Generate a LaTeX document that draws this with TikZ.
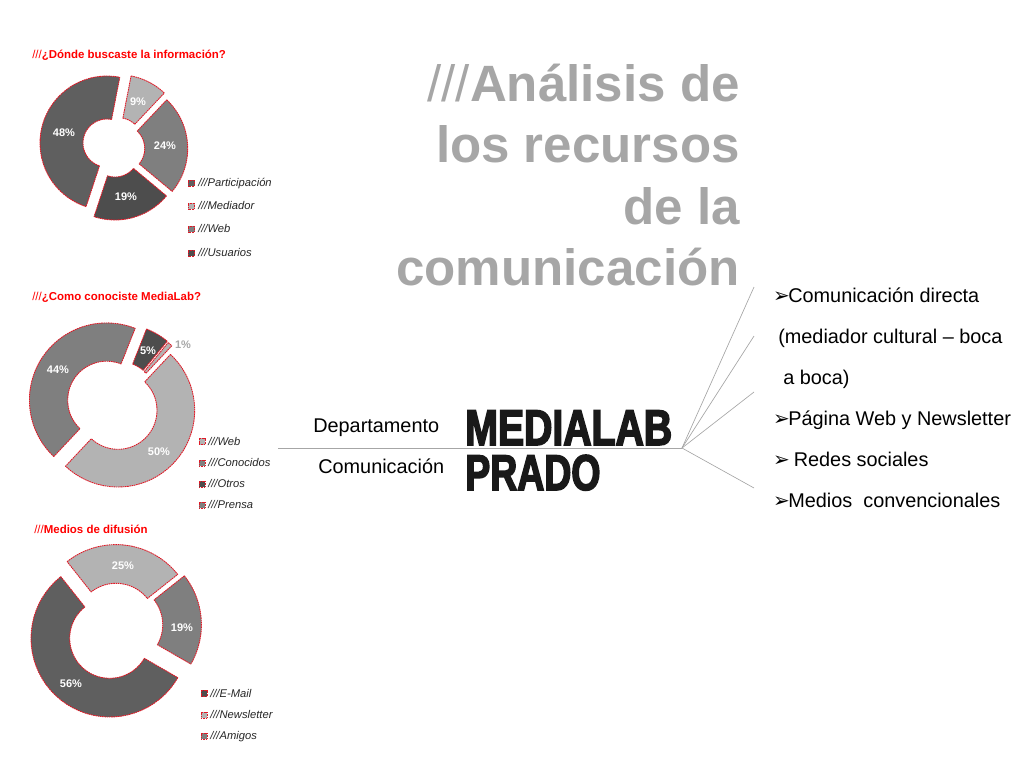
\documentclass[tikz,border=0pt]{standalone}
\usepackage{fontspec}
\setmainfont{Liberation Sans}
\newfontfamily\bulletfont{DejaVu Sans}
\newfontfamily\logofont[FakeStretch=0.78,FakeBold=3]{Liberation Sans Bold}
\usetikzlibrary{backgrounds}
\pgfdeclarelayer{edgelayer}
\pgfdeclarelayer{nodelayer}
\pgfsetlayers{main,edgelayer,nodelayer}
\definecolor{chartred}{rgb}{0.88,0.10,0.15}
\definecolor{heading}{HTML}{A6A6A6}
\definecolor{dark}{HTML}{4D4D4D}
\definecolor{middark}{HTML}{5F5F5F}
\definecolor{midgray}{HTML}{7F7F7F}
\definecolor{light}{HTML}{B3B3B3}
\tikzstyle{slice}=[draw=chartred, line width=0.65pt, dash pattern=on 1.2pt off 0.5pt, line join=round]
\tikzstyle{pct}=[text=white, font=\fontsize{8.25}{10}\selectfont\bfseries, inner sep=0pt]
\tikzstyle{charttitle}=[text=red, font=\fontsize{8.6}{10}\selectfont\bfseries, anchor=west, inner sep=0pt]
\tikzstyle{legendtext}=[font=\fontsize{8.4}{10}\selectfont\itshape, anchor=west, inner sep=0pt, text=black!85, text height=6pt, text depth=1.6pt]
\tikzstyle{legendbox}=[rectangle, draw=chartred, line width=0.5pt, dash pattern=on 0.8pt off 0.4pt, minimum size=4.6pt, inner sep=0pt]
\tikzstyle{bodytext}=[font=\fontsize{14.9}{18}\selectfont, anchor=west, inner sep=0pt, text height=11pt, text depth=3pt]
\tikzstyle{rule}=[draw=heading, line width=0.5pt]
\newcommand{\ringslice}[7]{
    \draw [style=slice, fill=#7] plot [domain=#3:#4, samples=40] ({#1+#6*sin(\x)}, {#2-#6*cos(\x)})
        -- plot [domain=#4:#3, samples=40] ({#1+#5*sin(\x)}, {#2-#5*cos(\x)}) -- cycle;
}
\newcommand{\arrowbullet}{\makebox[9.75pt][l]{\hspace*{-1.6pt}\bulletfont\fontsize{15}{15}\selectfont\symbol{"27A2}}}
\begin{document}
\begin{tikzpicture}[x=0.75pt, y=-0.75pt]
    \useasboundingbox (0, 0) rectangle (1024, 768);
    \begin{pgfonlayer}{edgelayer}
        \ringslice{118.3}{141.7}{11}{43.4}{24}{67}{light}
        \ringslice{120.7}{148.5}{43.4}{129.8}{24}{67}{midgray}
        \ringslice{115}{153}{129.8}{198.2}{24}{67}{dark}
        \ringslice{107}{143}{198.2}{371}{24}{67}{middark}

        \ringslice{118}{410.3}{43.2}{223.2}{39}{76.7}{light}
        \ringslice{106.7}{400.2}{223.2}{381.6}{39}{77.3}{midgray}
        \ringslice{118.3}{400.3}{21.6}{39.6}{39}{76.7}{dark}
        \ringslice{119.3}{401.7}{39.6}{43.2}{39}{76.7}{light}

        \ringslice{116}{623.3}{-38.4}{51.6}{40}{78.7}{light}
        \ringslice{122.7}{624.7}{51.6}{120}{40}{78.7}{midgray}
        \ringslice{109.7}{638.3}{120}{321.6}{40}{78.7}{middark}
    \end{pgfonlayer}
    \begin{pgfonlayer}{nodelayer}
        \node [style=charttitle] (title1) at (32, 55) {{\mdseries ///}¿Dónde buscaste la información?};
        \node [style=pct] (p11) at (138, 102) {9\%};
        \node [style=pct] (p12) at (165, 146) {24\%};
        \node [style=pct] (p13) at (126, 197) {19\%};
        \node [style=pct] (p14) at (64, 133) {48\%};
        \node [style=legendbox, fill=middark] (box11) at (191.5, 183) {};
        \node [style=legendbox, fill=light] (box12) at (191.5, 206) {};
        \node [style=legendbox, fill=midgray] (box13) at (191.5, 229) {};
        \node [style=legendbox, fill=dark] (box14) at (191.5, 253) {};
        \node [style=legendtext] (leg11) at (198, 184) {///Participación};
        \node [style=legendtext] (leg12) at (198, 207) {///Mediador};
        \node [style=legendtext] (leg13) at (198, 230) {///Web};
        \node [style=legendtext] (leg14) at (198, 254) {///Usuarios};

        \node [style=charttitle] (title2) at (32, 297) {{\mdseries ///}¿Como conociste MediaLab?};
        \node [style=pct] (p21) at (148, 351) {5\%};
        \node [style=pct, text=heading] (p22) at (183, 345) {1\%};
        \node [style=pct] (p23) at (58, 370) {44\%};
        \node [style=pct] (p24) at (159, 452) {50\%};
        \node [style=legendbox, fill=light] (box21) at (202, 441.5) {};
        \node [style=legendbox, fill=midgray] (box22) at (202, 463) {};
        \node [style=legendbox, fill=dark] (box23) at (202, 484) {};
        \node [style=legendbox, fill=midgray] (box24) at (202, 505) {};
        \node [style=legendtext] (leg21) at (208, 442.5) {///Web};
        \node [style=legendtext] (leg22) at (208, 464) {///Conocidos};
        \node [style=legendtext] (leg23) at (208, 485) {///Otros};
        \node [style=legendtext] (leg24) at (208, 506) {///Prensa};

        \node [style=charttitle] (title3) at (34, 529) {{\mdseries ///}Medios de difusión};
        \node [style=pct] (p31) at (123, 566) {25\%};
        \node [style=pct] (p32) at (182, 628) {19\%};
        \node [style=pct] (p33) at (71, 684) {56\%};
        \node [style=legendbox, fill=dark] (box31) at (204, 693.5) {};
        \node [style=legendbox, fill=light] (box32) at (204, 715) {};
        \node [style=legendbox, fill=midgray] (box33) at (204, 736) {};
        \node [style=legendtext] (leg31) at (210, 694.5) {///E-Mail};
        \node [style=legendtext] (leg32) at (210, 716) {///Newsletter};
        \node [style=legendtext] (leg33) at (210, 737) {///Amigos};

        \node [text=heading, font=\fontsize{38.3}{46.2}\selectfont\bfseries, align=right, anchor=east, inner sep=0pt] (heading) at (740, 175)
            {{\mdseries ///}Análisis de\\los recursos\\de la\\comunicación};

        \node [style=bodytext] (dept) at (313, 427) {Departamento};
        \node [style=bodytext] (comm) at (318, 468) {Comunicación};
        \node [font=\logofont\fontsize{37.7}{40}\selectfont, text=black!90, anchor=base west, inner sep=0pt] (logo1) at (465, 445) {MEDIALAB};
        \node [font=\logofont\fontsize{37.7}{40}\selectfont, text=black!90, anchor=base west, inner sep=0pt] (logo2) at (465, 490) {\scalebox{0.955}[1]{PRADO}};

        \node [style=bodytext] (item1) at (775, 297) {\arrowbullet Comunicación directa};
        \node [style=bodytext] (item1b) at (778, 338) {(mediador cultural – boca};
        \node [style=bodytext] (item1c) at (783, 379) {a boca)};
        \node [style=bodytext] (item2) at (775, 420) {\arrowbullet Página Web y Newsletter};
        \node [style=bodytext] (item3) at (775, 461) {\arrowbullet\ Redes sociales};
        \node [style=bodytext] (item4) at (775, 502) {\arrowbullet Medios\ \ convencionales};
    \end{pgfonlayer}
    \begin{pgfonlayer}{edgelayer}
        \coordinate (start) at (278, 448);
        \coordinate (hub) at (682, 448);
        \coordinate (end1) at (754, 287);
        \coordinate (end2) at (754, 336);
        \coordinate (end3) at (754, 392);
        \coordinate (end4) at (754, 488);
        \draw [style=rule] (start) to (hub);
        \draw [style=rule] (hub) to (end1);
        \draw [style=rule] (hub) to (end2);
        \draw [style=rule] (hub) to (end3);
        \draw [style=rule] (hub) to (end4);
    \end{pgfonlayer}
\end{tikzpicture}
\end{document}
